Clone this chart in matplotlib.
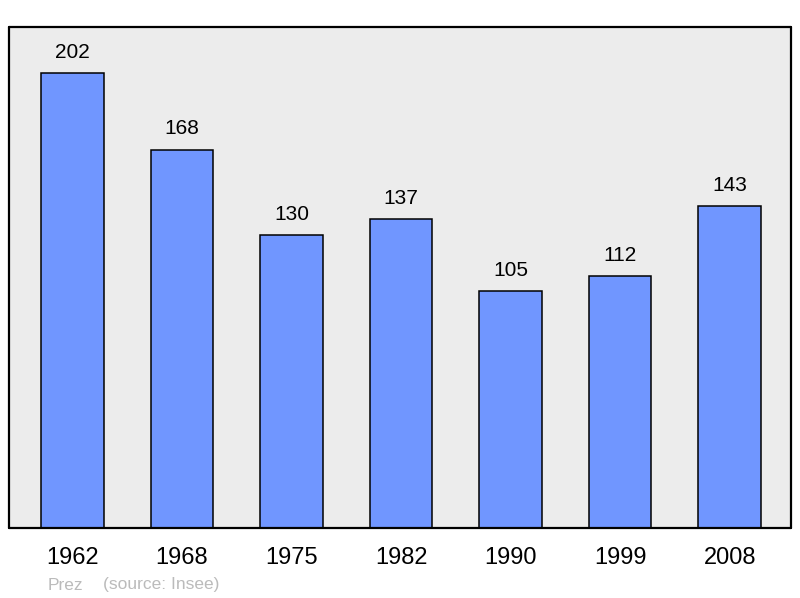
import matplotlib.pyplot as plt

years = ["1962", "1968", "1975", "1982", "1990", "1999", "2008"]
population = [202, 168, 130, 137, 105, 112, 143]

plt.rcParams['font.family'] = ['Liberation Sans', 'DejaVu Sans']

fig = plt.figure(figsize=(8, 5.98), dpi=100)
ax = fig.add_axes([9 / 800, 1 - 528 / 598, 782 / 800, 501 / 598])
ax.set_facecolor('#ececec')

pos = range(len(years))
ax.bar(pos, population, width=0.57, color='#7096ff', edgecolor='black',
       linewidth=1.1, zorder=2)
for x, v in zip(pos, population):
    ax.annotate(str(v), (x, v), xytext=(0, 8), textcoords='offset points',
                ha='center', va='bottom', fontsize=15)

ax.set_xlim(-0.58, 6.56)
ax.set_ylim(0, 222.4)
ax.set_xticks(list(pos))
ax.set_xticklabels(years, fontsize=17)
ax.tick_params(axis='x', length=0, pad=14)
ax.set_yticks([])
for s in ax.spines.values():
    s.set_linewidth(1.6)
    s.set_capstyle('round')

fig.text(48 / 800, 1 - 585 / 598, "Prez", color='#bbbbbb', fontsize=12.5, va='center')
fig.text(103 / 800, 1 - 585 / 598, "(source: Insee)", color='#bbbbbb', fontsize=12.5, va='center')

fig.savefig('out.png', dpi=100)
